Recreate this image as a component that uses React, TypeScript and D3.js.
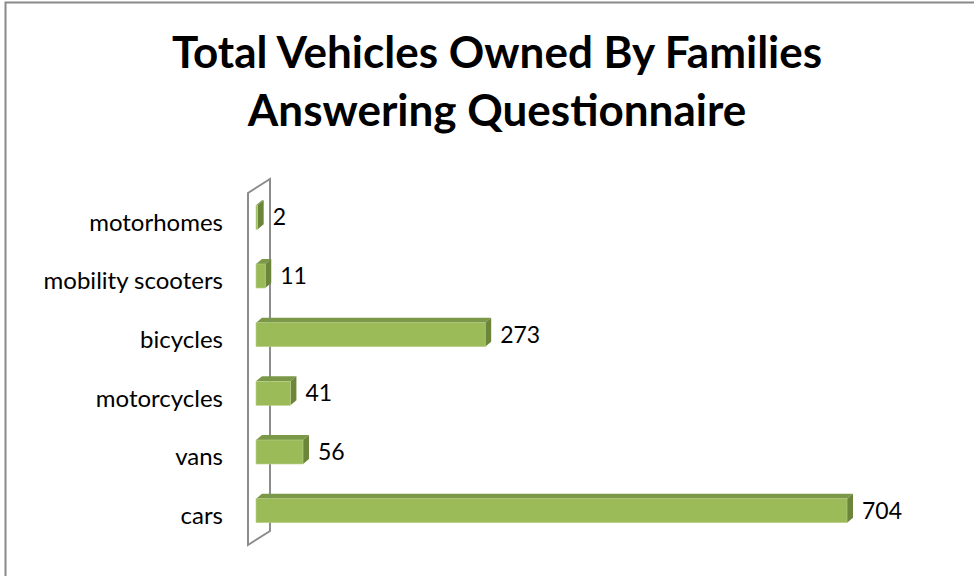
import React from "react";
import * as d3 from "d3";

const categories = ["motorhomes", "mobility scooters", "bicycles", "motorcycles", "vans", "cars"];
const values = [2, 11, 273, 41, 56, 704];
const titleLines = ["Total Vehicles Owned By Families", "Answering Questionnaire"];
const axisMax = 800;

const W = 974;
const H = 576;

export default function App() {
  const wallX = 248;
  const wallTop = 193;
  const wallBottom = 545;
  const wallDx = 22;
  const wallDy = -14;
  const barOffX = 8;
  const barOffY = -5;
  const barDx = 6;
  const barDy = -5;
  const barH = 24;

  const x = d3.scaleLinear().domain([0, axisMax]).range([wallX + barOffX, wallX + barOffX + axisMax * 0.8395]);
  const y = d3.scaleBand<string>().domain(categories).range([wallTop, wallBottom]);

  const font = "Lato, 'Open Sans', sans-serif";

  return (
    <svg width={W} height={H} style={{ position: "absolute", left: 0, top: 0, background: "#fff" }}>
      <rect x={0} y={0} width={W} height={H} fill="#fff" />
      <path d={`M5.5,${H + 5} L5.5,2.5 L${W + 5},2.5`} fill="none" stroke="#8a8a8a" strokeWidth={2} />
      {titleLines.map((t, i) => (
        <text
          key={t}
          x={497}
          y={68 + i * 58}
          textAnchor="middle"
          fontFamily={font}
          fontWeight="bold"
          fontSize={44}
          fill="#000"
        >
          {t}
        </text>
      ))}
      <path
        d={`M${wallX},${wallBottom} L${wallX},${wallTop} L${wallX + wallDx},${wallTop + wallDy} L${wallX + wallDx},${wallBottom + wallDy} Z`}
        fill="none"
        stroke="#8c8c8c"
        strokeWidth={2}
      />
      {categories.map((c, i) => {
        const cy = (y(c) as number) + y.bandwidth() / 2;
        const fy = cy + barOffY - barH / 2;
        const x0 = x(0);
        const x1 = x(values[i]);
        return (
          <g key={c}>
            <text
              x={223}
              y={cy}
              dy="0.35em"
              textAnchor="end"
              fontFamily={font}
              fontSize={24}
              fill="#000"
            >
              {c}
            </text>
            <path
              d={`M${x0},${fy} L${x0 + barDx},${fy + barDy} L${x1 + barDx},${fy + barDy} L${x1},${fy} Z`}
              fill="#7b9748"
            />
            <path
              d={`M${x1},${fy} L${x1 + barDx},${fy + barDy} L${x1 + barDx},${fy + barDy + barH} L${x1},${fy + barH} Z`}
              fill="#6b863a"
            />
            <rect x={x0} y={fy} width={x1 - x0} height={barH} fill="#9bbb59" stroke="#b9d08a" strokeWidth={0.6} />
            <text
              x={x1 + barDx + 9}
              y={fy + barH / 2}
              dy="0.35em"
              fontFamily={font}
              fontSize={23}
              fill="#000"
            >
              {values[i]}
            </text>
          </g>
        );
      })}
    </svg>
  );
}
